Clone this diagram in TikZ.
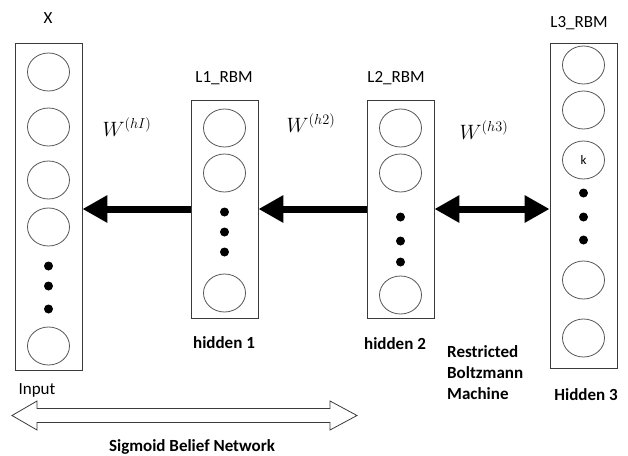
\documentclass[tikz,border=0pt]{standalone}
\usepackage{fontspec}
\setmainfont{Carlito}
\usepackage{tikz}
\usetikzlibrary{arrows.meta,positioning,shapes.geometric}
\definecolor{boxline}{HTML}{3A3A3A}
\definecolor{unitline}{HTML}{555555}
\tikzset{
  layer/.style ={draw=boxline,line width=0.9pt,minimum width=67pt,inner sep=0pt},
  unit/.style  ={ellipse,draw=unitline,line width=0.8pt,minimum width=42pt,
                 minimum height=38pt,inner sep=0pt,font=\fontsize{13}{15}\selectfont},
  more/.style  ={circle,fill=black,minimum size=9pt,inner sep=0pt},
  lbl/.style   ={font=\fontsize{17}{21}\selectfont,inner sep=0pt},
  blbl/.style  ={font=\fontsize{17}{21}\selectfont\bfseries,inner sep=0pt,align=left},
  wlbl/.style  ={font=\fontsize{22}{24}\selectfont,inner sep=0pt},
  push/.style  ={-{Triangle[length=25pt,width=26pt]},line width=7pt},
  both/.style  ={{Triangle[length=25pt,width=26pt]}-{Triangle[length=25pt,width=26pt]},
                 line width=7pt}
}

\begin{document}
\begin{tikzpicture}[x=1pt,y=-1pt]
        \useasboundingbox (0,0) rectangle (628,455);
        % layers
        \node[layer,minimum height=327pt] (xin) at (48.5,206.5) {};
        \node[layer,minimum height=218pt] (l1) at (224.5,209) {};
        \node[layer,minimum height=218pt] (l2) at (400.5,209) {};
        \node[layer,minimum height=325pt] (l3) at (583.5,205.5) {};
        % units and dots
        \foreach \y [count=\i] in {72,127,180,227,346}
          \node[unit] (x\i) at (48.5,\y) {};
        \foreach \y [count=\i] in {266,286,309}
          \node[more] (xd\i) at (48.5,\y) {};
        \foreach \y [count=\i] in {128,173,293}
          \node[unit] (a\i) at (224.5,\y) {};
        \foreach \y [count=\i] in {212,232,252}
          \node[more] (ad\i) at (224.5,\y) {};
        \foreach \y [count=\i] in {128,173,295}
          \node[unit] (b\i) at (400.5,\y) {};
        \foreach \y [count=\i] in {217,241,262}
          \node[more] (bd\i) at (400.5,\y) {};
        \foreach \y [count=\i] in {65,110,280,338}
          \node[unit] (c\i) at (583.5,\y) {};
        \node[unit] (ck) at (583.5,160) {k};
        \foreach \y [count=\i] in {193,217,240}
          \node[more] (cd\i) at (583.5,\y) {};
        % weights
        \draw[push] (l1.west) -- (l1.west -| xin.east);
        \draw[push] (l2.west) -- (l2.west -| l1.east);
        \draw[both] (l2.east) -- (l2.east -| l3.west);
        \node[wlbl] (w1) at (127,127) {$W^{(hI)}$};
        \node[wlbl] (w2) at (311,123) {$W^{(h2)}$};
        \node[wlbl] (w3) at (484,130) {$W^{(h3)}$};
        % labels
        \node[lbl] (xlab) at (48,18) {X};
        \node[lbl] (l1lab) at (224,78) {L1\_RBM};
        \node[lbl] (l2lab) at (396,78) {L2\_RBM};
        \node[lbl] (l3lab) at (579,23) {L3\_RBM};
        \node[blbl] (h1) at (224,343) {hidden 1};
        \node[blbl] (h2) at (395,344) {hidden 2};
        \node[blbl] (h3) at (586,395) {Hidden 3};
        \node[blbl,anchor=west] (rbm) at (447,373) {Restricted\\Boltzmann\\Machine};
        \node[lbl] (inp) at (37,390) {Input};
        % belief net span
        \draw[draw=boxline,line width=0.8pt] (12,415.5) -- (37,401) -- (37,408.5)
          -- (330,408.5) -- (330,401) -- (357,415.5) -- (330,430) -- (330,422.5)
          -- (37,422.5) -- (37,430) -- cycle;
        \node[blbl] (sbn) at (192,447) {Sigmoid Belief Network};
\end{tikzpicture}
\end{document}
